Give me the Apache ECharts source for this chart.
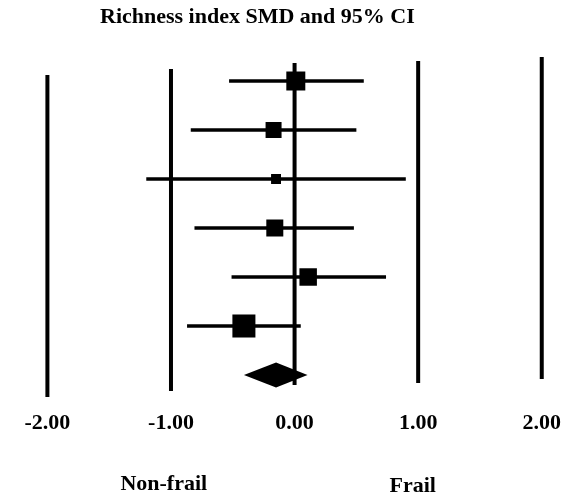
<!DOCTYPE html>
<html>
<head>
<meta charset="utf-8">
<script src="https://cdn.jsdelivr.net/npm/echarts@6/dist/echarts.min.js"></script>
<style>
  html, body { margin: 0; padding: 0; background: #fff; }
  #chart { width: 564px; height: 497px; }
</style>
</head>
<body>
<div id="chart"></div>
<script>
// ---- data ----
const rows = [0, 1, 2, 3, 4, 5];                       // study rows (top to bottom)
const smd = [0.01, -0.17, -0.15, -0.16, 0.11, -0.41];   // standardized mean differences
const ciLow = [-0.53, -0.84, -1.20, -0.81, -0.51, -0.87];
const ciHigh = [0.56, 0.50, 0.90, 0.48, 0.74, 0.05];
const weights = [19.6, 13.9, 5.4, 15.7, 16.6, 28.8];    // study weights (%)
const pooledRow = 6;
const pooledSMD = -0.15;
const pooledLow = -0.41;
const pooledHigh = 0.105;
const tickValues = [-2, -1, 0, 1, 2];
const tickLabels = ['-2.00', '-1.00', '0.00', '1.00', '2.00'];
// reference lines drawn at each tick, with their (slightly uneven) vertical extents in row units
const refLineTop = [-0.12, -0.245, -0.367, -0.408, -0.49];
const refLineBottom = [6.449, 6.327, 6.204, 6.163, 6.082];
const titleText = 'Richness index SMD and 95% CI';
const leftLabel = 'Non-frail';
const rightLabel = 'Frail';

// ---- chart ----
const FONT = '"Liberation Serif", "Times New Roman", serif';
const chart = echarts.init(document.getElementById('chart'), null, { renderer: 'canvas' });

const refLineData = tickValues.map((v, i) => [v, refLineTop[i], refLineBottom[i]]);
const ciData = rows.map((r, i) => [ciLow[i], ciHigh[i], r]);
const squareData = rows.map((r, i) => [smd[i], r, weights[i]]);

const option = {
  animation: false,
  backgroundColor: '#ffffff',
  title: {
    text: titleText,
    left: 100,
    top: 6,
    padding: 0,
    textStyle: { fontFamily: FONT, fontWeight: 'bold', fontSize: 22, color: '#000' }
  },
  grid: { left: 47.4, right: 22.1, top: 56.5, height: 343 },
  xAxis: {
    type: 'value',
    min: -2, max: 2, interval: 1,
    axisLine: { show: false },
    axisTick: { show: false },
    splitLine: { show: false },
    axisLabel: {
      margin: 24,
      verticalAlign: 'middle',
      fontFamily: FONT, fontWeight: 'bold', fontSize: 22, color: '#000',
      formatter: (v) => { const k = tickValues.indexOf(v); return k >= 0 ? tickLabels[k] : ''; }
    }
  },
  yAxis: {
    type: 'value', min: -0.5, max: 6.5, inverse: true, show: false
  },
  graphic: [
    { type: 'text', style: { text: leftLabel, x: 163.8, y: 484.3, textAlign: 'center', textVerticalAlign: 'middle', align: 'center', verticalAlign: 'middle',
      font: 'bold 22px ' + FONT, fill: '#000' } },
    { type: 'text', style: { text: rightLabel, x: 412.7, y: 486.6, textAlign: 'center', textVerticalAlign: 'middle', align: 'center', verticalAlign: 'middle',
      font: 'bold 22px ' + FONT, fill: '#000' } }
  ],
  series: [
    {
      type: 'custom',
      name: 'refLines',
      clip: false,
      data: refLineData,
      renderItem: (params, api) => {
        const p1 = api.coord([api.value(0), api.value(1)]);
        const p2 = api.coord([api.value(0), api.value(2)]);
        return { type: 'line', shape: { x1: p1[0], y1: p1[1], x2: p2[0], y2: p2[1] },
          style: { stroke: '#000', lineWidth: 4 } };
      },
      z: 1
    },
    {
      type: 'custom',
      name: 'CI',
      clip: false,
      data: ciData,
      renderItem: (params, api) => {
        const p1 = api.coord([api.value(0), api.value(2)]);
        const p2 = api.coord([api.value(1), api.value(2)]);
        return { type: 'line', shape: { x1: p1[0], y1: p1[1], x2: p2[0], y2: p2[1] },
          style: { stroke: '#000', lineWidth: 3.4 } };
      },
      z: 2
    },
    {
      type: 'scatter',
      name: 'SMD',
      data: squareData,
      symbol: 'rect',
      symbolSize: (val) => 4.29 * Math.sqrt(val[2]),
      itemStyle: { color: '#000', opacity: 1 },
      emphasis: { disabled: true },
      z: 3
    },
    {
      type: 'custom',
      name: 'pooled',
      clip: false,
      data: [[pooledLow, pooledSMD, pooledHigh, pooledRow]],
      renderItem: (params, api) => {
        const l = api.coord([api.value(0), api.value(3)]);
        const m = api.coord([api.value(1), api.value(3)]);
        const r = api.coord([api.value(2), api.value(3)]);
        const h = 12.5;
        return { type: 'polygon',
          shape: { points: [[l[0], l[1]], [m[0], m[1] - h], [r[0], r[1]], [m[0], m[1] + h]] },
          style: { fill: '#000' } };
      },
      z: 3
    }
  ]
};
chart.setOption(option);
</script>
</body>
</html>
